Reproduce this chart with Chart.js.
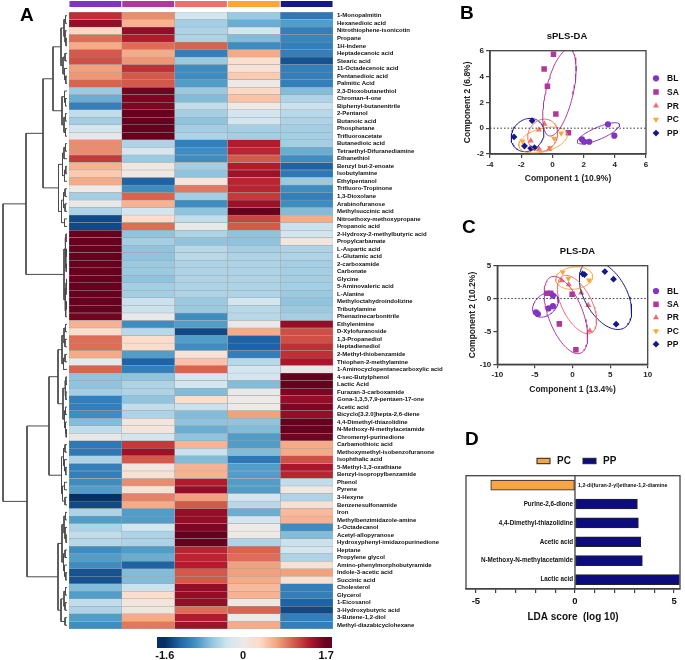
<!DOCTYPE html>
<html>
<head>
<meta charset="utf-8">
<script src="https://cdn.jsdelivr.net/npm/chart.js@4.4.1/dist/chart.umd.min.js"></script>
<style>
html,body{margin:0;padding:0;background:#ffffff;}
#wrap{position:relative;width:685px;height:660px;overflow:hidden;background:#fff;}
#wrap canvas{position:absolute;left:0;top:0;}
.panel{position:absolute;font-family:'Liberation Sans',Arial,sans-serif;font-weight:bold;font-size:19px;line-height:19px;color:#000;}
</style>
</head>
<body>
<div id="wrap">
  <canvas id="dendro" width="685" height="660"></canvas>
  <canvas id="header" width="685" height="660"></canvas>
  <canvas id="heat" width="685" height="660"></canvas>
  <canvas id="cbar" width="685" height="660"></canvas>
  <canvas id="spls" width="685" height="660"></canvas>
  <canvas id="pls" width="685" height="660"></canvas>
  <canvas id="lda" width="685" height="660"></canvas>
  <div class="panel" style="left:20px;top:5px">A</div>
  <div class="panel" style="left:460px;top:3px">B</div>
  <div class="panel" style="left:462px;top:217px">C</div>
  <div class="panel" style="left:465px;top:429px">D</div>
</div>
<script>
// ---------------- DATA ----------------
const groups = ['BL','SA','PR','PC','PP'];

const metabolites = [
'1-Monopalmitin','Hexanedioic acid','Nitrothiophene-isonicotin','Propane','1H-Indene','Heptadecanoic acid','Stearic acid','11-Octadecenoic acid','Pentanedioic acid','Palmitic Acid',
'2,3-Dioxobutanethiol','Chroman-4-one','Biphenyl-butanenitrile','2-Pentanol','Butanoic acid','Phosphetane','Trifluoroacetate','Butanedioic acid','Tetraethyl-Difuranediamine','Ethanethiol',
'Benzyl but-2-enoate','Isobutylamine','Ethylpentanol','Trifluoro-Tropinone','1,3-Dioxolane','Arabinofuranose','Methylsuccinic acid','Nitroethoxy-methoxypropane','Propanoic acid','2-Hydroxy-2-methylbutyric acid',
'Propylcarbamate','L-Aspartic acid','L-Glutamic acid','2-carboxamide','Carbonate','Glycine','5-Aminovaleric acid','L-Alanine','Methyloctahydroindolizine','Tributylamine',
'Phenazinecarbonitrile','Ethylenimine','D-Xylofuranoside','1,3-Propanediol','Heptadienediol','2-Methyl-thiobenzamide','Thiophen-2-methylamine','1-Aminocyclopentanecarboxylic acid','4-sec-Butylphenol','Lactic Acid',
'Furazan-3-carboxamide','Gona-1,3,5,7,9-pentaen-17-one','Acetic acid','Bicyclo[3.2.0]hepta-2,6-diene','4,4-Dimethyl-thiazolidine','N-Methoxy-N-methylacetamide','Chromenyl-purinedione','Carbamothioic acid','Methoxymethyl-isobenzofuranone','Isophthalic acid',
'5-Methyl-1,3-oxathiane','Benzyl-isopropylbenzamide','Phenol','Pyrene','3-Hexyne','Benzenesulfonamide','Iron','Methylbenzimidazole-amine','1-Octadecanol','Acetyl-allopyranose',
'Hydroxyphenyl-imidazopurinedione','Heptane','Propylene glycol','Amino-phenylmorphobutyramide','Indole-3-acetic acid','Succinic acid','Cholesterol','Glycerol','1-Eicosanol','3-Hydroxybutyric acid',
'3-Butene-1,2-diol','Methyl-diazabicyclohexane'];

const heatBL = [1.25,1.5,0.35,0.95,0.65,1.05,1.1,0.7,0.75,1.0,
-0.6,-0.8,-1.1,-0.4,-0.55,-0.3,-0.1,0.8,0.8,1.2,
0.6,0.45,0.65,0,-0.55,-0.05,-0.5,-1.45,-1.45,1.7,
1.7,1.7,1.7,1.7,1.7,1.7,1.7,1.7,1.7,1.7,
1.65,0.6,0.3,0.95,0.95,0.65,-0.05,1.0,-0.65,-0.65,
-0.55,-1.1,-1.1,-1.0,-0.7,-0.4,-0.05,-1.15,-1.15,-0.5,
-1.1,-1.1,-1.0,-0.9,-1.6,-1.45,-0.5,-0.9,-0.5,-0.4,
-0.45,-1.0,-0.9,-1.0,-1.4,-1.4,-0.7,-0.9,-0.4,-0.5,
-0.9,-1.0];
const heatSA = [0.8,0.6,1.5,1.35,0.95,0.65,0.75,1.25,1.05,1.05,
1.65,1.6,1.6,1.7,1.7,1.7,1.7,-0.5,-0.25,-0.6,
0.05,0.05,-1.3,-1.0,1.0,0.6,-0.3,0.3,0.95,-0.65,
-0.55,-0.65,-0.65,-0.6,-0.6,-0.65,-0.55,-0.55,-0.35,-0.35,
-0.05,-1.0,-0.45,0.3,0.3,-0.9,-1.3,-1.1,-0.65,-0.5,
-0.5,-0.65,-0.4,-0.5,0.1,0.1,-0.3,1.2,1.45,1.05,
0.08,0.2,0.8,0.2,0.85,0.65,-0.9,-0.9,-0.3,-0.5,
-0.5,-0.9,-0.8,-1.3,-0.7,-0.7,-0.35,0.3,0.1,0.1,
0.65,0.9];
const heatPR = [-0.3,-0.55,-0.5,-0.5,1.0,-1.1,-0.6,-1.0,-1.0,-0.9,
-0.6,-0.7,-0.4,-0.55,-0.65,-0.55,-0.5,-1.1,-1.0,-1.0,
-0.55,-0.65,0.1,0.9,-0.55,-1.0,-0.65,-0.4,-0.05,-0.5,
-0.65,-0.45,-0.45,-0.5,-0.5,-0.5,-0.5,-0.5,-0.6,-0.6,
-1.0,-0.9,-1.45,-0.9,-1.0,0.2,0.5,1.0,-0.3,-0.3,
-0.7,0.3,-0.35,-0.7,-0.65,-0.8,-0.65,0.6,-0.35,-0.7,
0.6,0.6,1.35,1.5,0.7,1.05,1.5,1.5,1.6,1.7,
1.7,1.3,1.3,1.35,1.05,1.05,1.5,1.5,1.5,0.95,
1.35,1.45];
const heatPC = [-0.6,-0.8,-0.3,-0.7,-1.0,0.65,0.25,0.2,0.45,0,
0.35,0.5,0,-0.3,-0.3,-0.55,-0.55,1.35,1.3,1.05,
1.35,1.45,1.3,1.3,1.2,1.45,1.7,1.15,1.05,-0.65,
-0.65,-0.55,-0.5,-0.5,-0.5,-0.5,-0.5,-0.5,-0.3,-0.45,
-0.45,-0.05,0.65,-1.3,-1.3,-1.1,-0.45,-0.3,-0.3,-0.7,
-0.05,0,0,0.7,-0.65,-0.7,-0.9,-0.9,-0.7,-1.15,
-0.9,-0.9,-0.9,-0.9,-0.3,-0.45,-0.8,-0.3,0,0,
-0.5,1.0,0.95,0.7,0.7,0.65,0.55,0.6,0.05,1.0,
0,0.65];
const heatPP = [-1.15,-0.9,-1.1,-1.05,-1.1,-1.1,-1.4,-1.1,-1.1,-1.1,
-0.7,-0.5,-0.35,-0.45,-0.5,-0.55,-0.55,-0.55,-0.8,-1.0,
-1.3,-1.15,-0.6,-1.0,-1.1,-1.0,-0.7,0.65,-0.35,-0.3,
0.1,-0.5,-0.5,-0.55,-0.55,-0.55,-0.55,-0.6,-0.65,-0.6,
-0.55,1.5,1.1,1.1,1.25,1.25,1.4,-0.05,1.7,1.7,
1.6,1.5,1.6,1.5,1.7,1.7,1.65,0.65,0.65,1.1,
1.4,1.3,-0.4,0.05,-0.5,0.2,0.55,0.6,-1.0,-0.7,
-0.35,-0.3,-0.5,0.2,0.7,0.25,-1.1,-1.1,-1.3,-1.45,
-1.1,-1.1];

const heatRange = [-1.6, 1.7];
const colorbarTicks = [-1.6, 0, 1.7];
const colorbarExtent = [-1.76, 1.82];

// dendrogram: [mergeHeight, left, right], leaves = row index
const dendroTree = [64,
  [41,
    [24,
      [14,
        [6,[3,[1.5,0,1],[2,2,[1,3,4]]],[4,[2,5,6],[2.5,7,[1.2,8,9]]]],
        [5,[2.5,10,[1.5,11,12]],[3,[1.5,13,14],[1.5,15,16]]]
      ],
      [8.5,[4.5,[3,[1.5,17,18],19],[2.5,[1.2,20,21],22]],[5.5,[3.5,[2,23,24],[2,25,26]],[2.5,27,28]]]
    ],
    [3,[1.8,[1,29,30],[1.2,[0.6,31,32],[0.8,33,34]]],[2,[1,[0.5,35,36],37],[1.3,[0.8,38,39],40]]]
  ],
  [40,
    [18,
      [9,[5,[3,[1.5,41,42],[2,43,44]],[3.5,[2,45,46],47]],[4,[2,[1,48,49],[1.2,50,51]],[2.5,[1.5,52,53],[1.5,54,[0.8,55,56]]]]],
      [5.5,[3.5,[2,57,58],[2.5,59,[1.2,60,61]]],[4.5,[2.5,62,63],[2,64,65]]]
    ],
    [9,[5,[3,[1.5,66,67],[2,68,[1,69,70]]],[3.5,[2,71,72],[2.5,73,[1.2,74,75]]]],[6,[3,[1.5,76,77],[2,78,79]],[2,80,81]]]
  ]
];

// sPLS-DA scores (Component 1, Component 2)
const splsBL = [[1.89,-0.86],[2.04,-1.05],[2.36,-1.05],[3.56,0.30],[3.97,-0.58]];
const splsSA = [[0.07,5.72],[-0.53,4.58],[-0.32,3.24],[0.22,1.10],[1.03,-0.35]];
const splsPR = [[-0.51,0.32],[-0.87,-0.12],[-1.39,-0.97],[-0.85,-1.61],[-0.21,-1.64]];
const splsPC = [[-1.92,-1.02],[0.11,-0.79],[0.56,-0.40],[-0.15,-1.51]];
const splsPP = [[-2.46,-0.68],[-1.30,0.58],[-1.79,-1.38],[-1.39,-1.56],[-1.15,-1.51]];
// ellipses: centre x, centre y, axis-1 vector, axis-2 vector (data units)
const splsEllipseBL = [2.95,-0.4,1.35,0.7,0.15,-0.43];
const splsEllipseSA = [0.45,2.75,0.65,3.35,0.85,-0.25];
const splsEllipsePR = [-0.62,-0.55,0.15,1.25,0.95,-0.05];
const splsEllipsePC = [-0.6,-0.92,1.55,0.45,-0.1,0.9];
const splsEllipsePP = [-1.59,-0.53,1.05,0.15,0.05,1.28];

// PLS-DA scores
const plsBL = [[-4.85,-2.1],[-4.6,-2.35],[-3.2,-1.5],[-2.6,-1.15],[-2.6,0.45]];
const plsSA = [[-3.4,0.8],[-2.9,0.8],[-0.05,0.65],[-1.75,-3.85],[0.45,-7.8]];
const plsPR = [[-1.45,2.75],[-0.5,2.15],[1.15,0.9],[2.1,-1.0],[2.3,-4.9]];
const plsPC = [[-1.3,4.0],[-0.55,3.05],[2.2,2.8]];
const plsPP = [[1.35,3.75],[1.6,3.65],[4.3,4.1],[5.45,2.95],[5.8,-3.9]];
const plsEllipseBL = [-3.6,-0.95,1.6,1.2,0.6,-1.45];
const plsEllipseSA = [-0.88,-2.5,-1.88,5.83,2.2,0.75];
const plsEllipsePR = [0.6,-0.9,-1.78,4.38,1.9,0.7];
const plsEllipsePC = [0.22,3.12,2.45,0.15,0.1,1.7];
const plsEllipsePP = [4.39,0.54,-2.2,5.15,2.7,1.0];

// LEfSe LDA
const ldaFeatures = ['1,2-di(furan-2-yl)ethane-1,2-diamine','Purine-2,6-dione','4,4-Dimethyl-thiazolidine','Acetic acid','N-Methoxy-N-methylacetamide','Lactic acid'];
const ldaScores = [-4.25, 3.15, 3.2, 3.32, 3.4, 5.27];
const ldaGroup = ['PC','PP','PP','PP','PP','PP'];
const ldaLegend = ['PC','PP'];
const ldaRange = [-5.5, 5.3];
const ldaLabeledTicks = [-5, 0, 5];

// ---------------- STYLE ----------------
const FONT = "'Liberation Sans', Arial, sans-serif";
Chart.defaults.font.family = FONT;
Chart.defaults.font.weight = 'bold';
Chart.defaults.color = '#111';
Chart.defaults.animation = false;

const groupColors = {BL:'#8234C2', SA:'#B2379D', PR:'#EF6F6F', PC:'#FFA536', PP:'#17178C'};
const groupMarks = {
  BL:{pointStyle:'circle', radius:3.1, rotation:0},
  SA:{pointStyle:'rect', radius:3.9, rotation:0},
  PR:{pointStyle:'triangle', radius:3.5, rotation:0},
  PC:{pointStyle:'triangle', radius:3.5, rotation:180},
  PP:{pointStyle:'rectRot', radius:3.4, rotation:0}
};
const heatStops = ['#053061','#2166AC','#4393C3','#92C5DE','#D1E5F0','#ECE9E7','#FDDBC7','#F4A582','#D6604D','#B2182B','#67001F'];

function hexRgb(h){return [parseInt(h.slice(1,3),16),parseInt(h.slice(3,5),16),parseInt(h.slice(5,7),16)];}
const heatRgb = heatStops.map(hexRgb);
function heatColor(v){
  let t;
  if (v < 0) t = 0.5 - 0.5 * Math.min(1, -v / -heatRange[0]);
  else t = 0.5 + 0.5 * Math.min(1, v / heatRange[1]);
  const p = t * (heatRgb.length - 1);
  const i = Math.min(heatRgb.length - 2, Math.floor(p));
  const f = p - i;
  const a = heatRgb[i], b = heatRgb[i+1];
  return 'rgb(' + [0,1,2].map(k => Math.round(a[k] + (b[k]-a[k]) * f)).join(',') + ')';
}

const W = 685, H = 660;
const noPlug = {legend:{display:false}, tooltip:{enabled:false}};

const drawPt = (Chart.helpers && Chart.helpers.drawPoint) ? Chart.helpers.drawPoint :
  function(ctx,o,x,y){ctx.beginPath();ctx.arc(x,y,o.radius,0,Math.PI*2);ctx.fill();};

// ---------------- PLUGINS ----------------
const framePlugin = {
  id:'frame',
  afterDatasetsDraw(chart, args, o){
    if (!o || !o.color) return;
    const a = chart.chartArea, c = chart.ctx;
    c.save(); c.strokeStyle = o.color; c.lineWidth = o.width;
    c.strokeRect(a.left, a.top, a.right - a.left, a.bottom - a.top);
    c.restore();
  }
};
const titlePlugin = {
  id:'panelTitle',
  afterDraw(chart, args, o){
    if (!o || !o.text) return;
    const a = chart.chartArea, c = chart.ctx;
    c.save(); c.fillStyle = '#111'; c.font = 'bold ' + o.size + 'px ' + FONT;
    c.textAlign = 'center'; c.textBaseline = 'middle';
    c.fillText(o.text, (a.left + a.right) / 2 + (o.dx || 0), a.top - o.gap);
    c.restore();
  }
};
const legendPlugin = {
  id:'groupLegend',
  afterDraw(chart, args, o){
    if (!o || !o.x) return;
    const c = chart.ctx;
    groups.forEach((g, i) => {
      const y = o.y + i * o.step;
      const m = groupMarks[g];
      c.save();
      c.fillStyle = groupColors[g]; c.strokeStyle = groupColors[g];
      drawPt(c, {pointStyle:m.pointStyle, radius:m.radius, rotation:m.rotation, borderWidth:0}, o.x, y);
      c.fillStyle = '#111'; c.font = 'bold ' + o.size + 'px ' + FONT;
      c.textAlign = 'left'; c.textBaseline = 'middle';
      c.fillText(g, o.x + o.gap, y + 0.5);
      c.restore();
    });
  }
};

// ---------------- DENDROGRAM ----------------
const dSegs = [];
function walk(n){
  if (typeof n === 'number') return {h:0, y:n + 0.5};
  const a = walk(n[1]), b = walk(n[2]);
  dSegs.push({x:a.h, y:a.y}, {x:n[0], y:a.y}, {x:n[0], y:b.y}, {x:b.h, y:b.y}, {x:n[0], y:null});
  return {h:n[0], y:(a.y + b.y) / 2};
}
walk(dendroTree);
new Chart(document.getElementById('dendro'), {
  type:'line',
  data:{datasets:[{data:dSegs, borderColor:'#4a4a4a', borderWidth:1, pointRadius:0, spanGaps:false, tension:0, fill:false}]},
  options:{responsive:false, animation:false, clip:false,
    layout:{padding:{left:3, top:12, right:W-67, bottom:H-629}},
    plugins:noPlug,
    scales:{x:{type:'linear', min:0, max:64, reverse:true, display:false},
            y:{type:'linear', min:0, max:metabolites.length, reverse:true, display:false}}}
});

// ---------------- HEADER BAR ----------------
new Chart(document.getElementById('header'), {
  type:'bar',
  data:{labels:['group'], datasets:groups.map(g => ({label:g, data:[1], backgroundColor:groupColors[g], borderColor:'#ffffff', borderWidth:0.8, borderSkipped:false, barPercentage:1, categoryPercentage:1}))},
  options:{indexAxis:'y', responsive:false, animation:false,
    layout:{padding:{left:69, right:W-333, top:0.5, bottom:H-7.5}},
    plugins:noPlug,
    scales:{x:{stacked:true, min:0, max:groups.length, display:false}, y:{stacked:true, display:false}}}
});

// ---------------- HEATMAP ----------------
const heatCols = [heatBL, heatSA, heatPR, heatPC, heatPP];
new Chart(document.getElementById('heat'), {
  type:'bar',
  data:{labels:metabolites, datasets:heatCols.map((col, j) => ({
    label:groups[j], data:col.map(() => 1), backgroundColor:col.map(heatColor),
    borderColor:'#a3a3a3', borderWidth:0.5, borderSkipped:false, barPercentage:1, categoryPercentage:1}))},
  options:{indexAxis:'y', responsive:false, animation:false,
    layout:{padding:{left:69, top:12, right:W-333-110, bottom:H-629}},
    plugins:noPlug,
    scales:{
      x:{stacked:true, min:0, max:groups.length, display:false},
      y:{stacked:true, position:'right', grid:{display:false, drawTicks:false}, border:{display:false},
         ticks:{autoSkip:false, padding:4, font:{size:6, weight:'bold'}, color:'#111'},
         afterFit:s => {s.width = 110;}}
    }}
});

// ---------------- COLOR BAR ----------------
new Chart(document.getElementById('cbar'), {
  type:'bar',
  data:{labels:['scale'], datasets:[{data:[[colorbarExtent[0], colorbarExtent[1]]], borderWidth:0, barPercentage:1, categoryPercentage:1,
    backgroundColor:(ctx) => {
      const ch = ctx.chart, a = ch.chartArea;
      if (!a) return '#cccccc';
      const xs = ch.scales.x;
      const g = ch.ctx.createLinearGradient(a.left, 0, a.right, 0);
      for (let k = 0; k <= 60; k++) {
        const v = colorbarExtent[0] + (colorbarExtent[1] - colorbarExtent[0]) * k / 60;
        const pos = Math.max(0, Math.min(1, (xs.getPixelForValue(v) - a.left) / (a.right - a.left)));
        g.addColorStop(pos, heatColor(v));
      }
      return g;
    }}]},
  options:{indexAxis:'y', responsive:false, animation:false,
    layout:{padding:{left:157, right:W-332, top:637, bottom:0}},
    plugins:noPlug,
    scales:{
      x:{type:'linear', min:colorbarExtent[0], max:colorbarExtent[1],
         afterBuildTicks:s => {s.ticks = colorbarTicks.map(v => ({value:v}));},
         ticks:{font:{size:11, weight:'bold'}, color:'#111', padding:1, autoSkip:false, maxRotation:0},
         grid:{display:false, drawTicks:false}, border:{display:false},
         afterFit:s => {s.height = 12;}},
      y:{display:false}
    }}
});

// ---------------- SCORE PLOTS ----------------
function ellipsePoints(p){
  const [cx, cy, ux, uy, vx, vy] = p, pts = [];
  for (let k = 0; k <= 90; k++) {
    const t = 2 * Math.PI * k / 90;
    pts.push({x:cx + ux * Math.cos(t) + vx * Math.sin(t), y:cy + uy * Math.cos(t) + vy * Math.sin(t)});
  }
  return pts;
}
function scoreChart(id, scores, ellipses, xr, yr, xstep, ystep, xTitle, yTitle, title, area, leg){
  const ds = [];
  ds.push({data:[{x:xr[0], y:0}, {x:xr[1], y:0}], showLine:true, borderColor:'#333', borderWidth:1, borderDash:[1.5,2], pointRadius:0});
  groups.forEach((g, i) => ds.push({data:ellipsePoints(ellipses[i]), showLine:true, borderColor:groupColors[g], borderWidth:1, pointRadius:0, tension:0, fill:false}));
  groups.forEach((g, i) => {
    const m = groupMarks[g];
    ds.push({data:scores[i].map(([x, y]) => ({x, y})), pointStyle:m.pointStyle, pointRadius:m.radius, pointRotation:m.rotation,
      backgroundColor:groupColors[g], borderColor:groupColors[g], borderWidth:0});
  });
  const axisCommon = (min, max, step, text, size) => ({
    type:'linear', min, max,
    ticks:{stepSize:step, font:{size:8, weight:'bold'}, color:'#222', padding:2},
    grid:{drawOnChartArea:false, drawTicks:true, tickLength:4, color:'#444', lineWidth:1.2},
    border:{color:'#444', width:1.5},
    title:{display:true, text, font:{size:8.5, weight:'bold'}, color:'#222', padding:0},
    afterFit:s => {if (s.isHorizontal()) s.height = size; else s.width = size;}
  });
  new Chart(document.getElementById(id), {
    type:'scatter',
    data:{datasets:ds},
    plugins:[framePlugin, titlePlugin, legendPlugin],
    options:{responsive:false, animation:false,
      layout:{padding:{left:area.left - area.yW, top:area.top, right:W - area.right, bottom:H - area.bottom - area.xH}},
      plugins:{legend:{display:false}, tooltip:{enabled:false},
        frame:{color:'#444', width:1.3},
        panelTitle:{text:title, size:9.5, gap:14, dx:area.titleDx || 0},
        groupLegend:leg},
      scales:{x:axisCommon(xr[0], xr[1], xstep, xTitle, area.xH), y:axisCommon(yr[0], yr[1], ystep, yTitle, area.yW)}}
  });
}
scoreChart('spls', [splsBL, splsSA, splsPR, splsPC, splsPP],
  [splsEllipseBL, splsEllipseSA, splsEllipsePR, splsEllipsePC, splsEllipsePP],
  [-4, 6], [-2, 6], 2, 2, 'Component 1 (10.9%)', 'Component 2 (6.8%)', 'sPLS-DA',
  {left:490, top:50.7, right:646, bottom:154, yW:27, xH:30, titleDx:-1},
  {x:656, y:78.3, step:13.7, gap:11, size:8.5});
scoreChart('pls', [plsBL, plsSA, plsPR, plsPC, plsPP],
  [plsEllipseBL, plsEllipseSA, plsEllipsePR, plsEllipsePC, plsEllipsePP],
  [-10, 10], [-10, 5], 5, 5, 'Component 1 (13.4%)', 'Component 2 (10.2%)', 'PLS-DA',
  {left:497.3, top:265.7, right:647.7, bottom:364.3, yW:30, xH:30, titleDx:5},
  {x:656, y:291, step:13.3, gap:11, size:8.5});

// ---------------- LDA ----------------
const ldaColors = {PC:'#F7A548', PP:'#0C0C80'};
const ldaLabelPlugin = {
  id:'ldaLabels',
  afterDatasetsDraw(chart){
    const xs = chart.scales.x, ys = chart.scales.y, c = chart.ctx, a = chart.chartArea;
    const x0 = xs.getPixelForValue(0);
    c.save();
    c.strokeStyle = '#333'; c.lineWidth = 1.2;
    c.beginPath(); c.moveTo(x0, a.top); c.lineTo(x0, a.bottom); c.stroke();
    c.fillStyle = '#111'; c.textBaseline = 'middle';
    ldaFeatures.forEach((f, i) => {
      const y = ys.getPixelForValue(i);
      if (ldaScores[i] >= 0) { c.font = 'bold 6.3px ' + FONT; c.textAlign = 'right'; c.fillText(f, x0 - 2, y); }
      else { c.font = 'bold 5.3px ' + FONT; c.textAlign = 'left'; c.fillText(f, x0 + 3, y); }
    });
    c.restore();
  }
};
const ldaLegendPlugin = {
  id:'ldaLegend',
  afterDraw(chart, args, o){
    const c = chart.ctx;
    c.save();
    ldaLegend.forEach((g, i) => {
      const x = o.x + i * o.step;
      c.fillStyle = ldaColors[g]; c.fillRect(x, o.y - 2.7, 13, 5.4);
      c.strokeStyle = '#222'; c.lineWidth = 1; c.strokeRect(x, o.y - 2.7, 13, 5.4);
      c.fillStyle = '#111'; c.font = 'bold 10px ' + FONT; c.textAlign = 'left'; c.textBaseline = 'middle';
      c.fillText(g, x + 20, o.y + 0.5);
    });
    c.restore();
  }
};
const ldaTickValues = [];
for (let v = Math.ceil(ldaRange[0]); v <= Math.floor(ldaRange[1]); v++) ldaTickValues.push(v);
new Chart(document.getElementById('lda'), {
  type:'bar',
  data:{labels:ldaFeatures, datasets:[{data:ldaScores, backgroundColor:ldaGroup.map(g => ldaColors[g]),
    borderColor:'#222', borderWidth:1, borderSkipped:false, barThickness:10}]},
  plugins:[framePlugin, ldaLabelPlugin, ldaLegendPlugin],
  options:{indexAxis:'y', responsive:false, animation:false,
    layout:{padding:{left:466, top:475.7, right:W - 680, bottom:H - 589 - 34.3}},
    plugins:{legend:{display:false}, tooltip:{enabled:false}, frame:{color:'#444', width:1.3}, ldaLegend:{x:537, y:461, step:46}},
    scales:{
      x:{type:'linear', min:ldaRange[0], max:ldaRange[1],
         afterBuildTicks:s => {s.ticks = ldaTickValues.map(v => ({value:v}));},
         ticks:{callback:(v) => ldaLabeledTicks.includes(v) ? String(v) : '', font:{size:9.5, weight:'bold'}, color:'#111', padding:3, autoSkip:false, maxRotation:0},
         grid:{drawOnChartArea:false, tickLength:4, color:'#444', lineWidth:1.2},
         border:{color:'#444', width:1.3},
         title:{display:true, text:'LDA score  (log 10)', font:{size:10, weight:'bold'}, color:'#111', padding:0},
         afterFit:s => {s.height = 34.3;}},
      y:{display:false}
    }}
});
</script>
</body>
</html>
